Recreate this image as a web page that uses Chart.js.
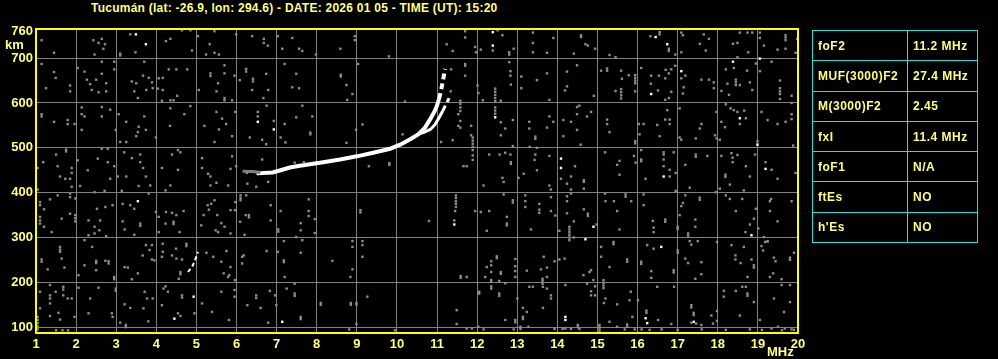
<!DOCTYPE html>
<html lang="es">
<head>
<meta charset="UTF-8">
<title>Ionograma Tucumán</title>
<script src="https://cdn.jsdelivr.net/npm/chart.js@4.4.1/dist/chart.umd.min.js"></script>
<style>
    body { margin: 0; background: #000; width: 998px; height: 359px; overflow: hidden; position: relative;
           font-family: "Liberation Sans", Arial, sans-serif; }
    #grafico { position: absolute; left: 0; top: 0; }
    #titulo { position: absolute; left: 91px; top: 1px; color: #ffff80; font-weight: bold; font-size: 12px;
              letter-spacing: 0.25px; white-space: nowrap; }
    #param { position: absolute; left: 812px; top: 30px; width: 166px; border-collapse: collapse;
             color: #ffff80; font-weight: bold; font-size: 12px; letter-spacing: 0.5px; }
    #param td { border: 1px solid #20e0e0; height: 29.3px; padding: 0 0 0 5px; }
    #param td:first-child { width: 89px; }
</style>
</head>
<body>
<div id="titulo">Tucumán (lat: -26.9, lon: 294.6) - DATE: 2026 01 05 - TIME (UT): 15:20</div>
<canvas id="grafico" width="998" height="359"></canvas>
<table id="param"></table>

<script>
    // parametros de la tabla
    var paramNames = ["foF2", "MUF(3000)F2", "M(3000)F2", "fxI", "foF1", "ftEs", "h'Es"];
    var paramValues = ["11.2 MHz", "27.4 MHz", "2.45", "11.4 MHz", "N/A", "NO", "NO"];

    // ejes
    var xTicks = [1, 2, 3, 4, 5, 6, 7, 8, 9, 10, 11, 12, 13, 14, 15, 16, 17, 18, 19, 20];
    var yTicks = [100, 200, 300, 400, 500, 600, 700, 760];

    // traza ordinaria (MHz, km)
    var oTraceF = [6.5, 6.9, 7.1, 7.33, 7.58, 8.16, 8.58, 9.0, 9.41, 9.83, 10.08, 10.33, 10.53, 10.7, 10.83, 10.93, 10.99, 11.05, 11.09, 11.14, 11.2];
    var oTraceH = [443, 445, 450, 456, 460, 468, 474, 481, 489, 498, 507, 519, 530, 545, 564, 580, 592, 609, 624, 646, 676];
    // traza extraordinaria
    var xTraceF = [10.5, 10.66, 10.83, 10.95, 11.05, 11.14, 11.24, 11.3];
    var xTraceH = [530, 534, 541, 552, 567, 582, 600, 611];
    // inicio gris de la traza
    var tailF = [6.15, 6.4, 6.6];
    var tailH = [448, 447, 445];
    // traza baja cerca de 5 MHz
    var lowF = [4.79, 4.84, 4.89, 4.95, 5.04];
    var lowH = [223, 229, 234, 246, 268];

    // puntos blancos sueltos
    var bright = [[3.49,753],[3.74,731],[6.53,558],[6.93,541],[3.54,381],[4.45,119],[4.93,168],[7.14,112],[11.43,329],[12.39,758],
        [12.39,728],[12.45,568],[16.45,747],[16.74,731],[17.09,671],[16.34,620],[18.38,692],[19.05,699],[18.55,566],[18.99,507],
        [14.09,476],[14.09,455],[16.65,436],[19.19,453],[14.9,324],[14.7,296],[18.84,305],[16.59,279],[16.2,120],[16.24,109],
        [17.4,112],[14.2,123],[14.2,116]];

    // ruido gris
    var noise = [
        [1.14,740],[1.45,712],[2.43,740],[2.56,734],[2.64,743],[2.72,731],[2.68,721],[2.46,708],[3.35,753],[3.48,713],[3.1,710],[3.1,706],
        [4.35,743],[4.24,738],[4.89,717],[4.64,762],[4.85,762],[5.04,749],[5.33,731],[5.45,760],[5.24,708],[5.45,712],[5.56,708],[6.39,749],
        [6.68,743],[6.68,734],[6.78,728],[7.14,721],[7.03,749],[5.99,753],
        [1.14,687],[1.45,669],[1.49,656],[1.25,633],[1.85,639],[1.85,626],[2.04,678],[2.21,670],[2.64,692],[2.64,665],[2.95,692],[2.95,675],
        [2.27,652],[2.35,642],[2.5,652],[2.39,629],[2.56,624],[2.75,644],[2.75,626],[3.39,648],[3.5,644],[3.67,661],[3.7,692],[3.81,656],
        [3.89,646],[3.91,633],[3.75,629],[3.45,626],[3.54,611],[4.06,655],[4.16,656],[4.04,632],[4.16,629],[4.14,605],[4.35,606],[4.43,606],
        [4.52,616],[4.31,675],[4.77,675],[4.5,675],[5.06,629],[5.35,666],[5.35,660],[5.54,644],[5.5,626],[5.7,684],[5.7,666],[5.7,611],
        [5.7,606],[5.89,606],[5.95,661],[6.08,651],[6.24,676],[6.24,670],[6.41,654],[6.41,648],[6.39,629],[6.74,665],[6.79,629],[6.67,611],[7.2,687],
        [1.14,575],[1.14,570],[1.45,558],[1.79,562],[1.79,553],[1.96,553],[2.14,590],[2.14,575],[2.21,570],[2.14,540],[2.64,591],[2.85,585],
        [2.64,570],[2.99,540],[3.25,558],[3.06,575],[3.56,547],[3.7,570],[3.74,540],[3.54,535],[3.5,526],[3.1,513],[3.25,513],[3.99,523],
        [4.35,588],[4.85,593],[4.7,575],[4.34,549],[5.2,549],[5.5,580],[5.64,565],[5.56,541],[5.74,553],[5.89,526],[5.45,513],[5.97,580],
        [6.53,580],[6.53,570],[6.93,560],[7.2,553],[7.1,523],[7.22,512],[6.33,523],[6.64,518],[6.74,508],[6.75,594],
        [1.75,496],[1.75,492],[1.5,485],[1.18,468],[1.04,455],[1.54,459],[1.89,455],[1.89,444],[1.6,436],[1.73,431],[1.85,431],[2.04,472],
        [2.29,450],[2.54,476],[2.64,498],[2.79,498],[2.79,468],[2.95,459],[2.85,431],[3.04,436],[3.2,490],[3.39,477],[3.6,485],[3.6,468],
        [3.67,455],[3.74,436],[3.25,436],[4.14,455],[4.39,485],[4.54,495],[4.6,490],[4.54,451],[5.14,477],[5.14,455],[5.29,442],[5.35,436],
        [5.89,481],[5.99,459],[5.85,453],[6.26,444],[6.64,474],
        [7.39,745],[7.56,721],[7.64,716],[7.98,708],[8.59,721],[8.95,749],[8.95,740],[9.8,704],[11.24,731],[11.39,716],[11.7,760],[11.7,746],
        [11.95,725],[11.97,713],[12.09,719],[12.39,717],[12.51,762],[12.63,751],[12.8,713],[12.8,708],[12.91,721],[13.39,757],[13.39,734],[13.39,713],
        [7.49,665],[7.39,635],[7.56,633],[8.6,663],[8.6,659],[8.74,640],[8.89,620],[9.03,687],[8.76,607],[10.2,603],[11.35,675],[11.34,626],
        [11.7,687],[11.7,683],[11.7,661],[12.01,639],[12.03,622],[12.14,606],[12.45,632],[12.45,625],[12.45,618],[12.45,611],[12.45,604],
        [12.59,605],[12.8,691],[12.83,671],[12.83,661],[12.84,641],[13.1,659],[13.1,633],[13.49,651],
        [7.64,594],[7.49,568],[7.89,570],[7.84,534],[7.84,530],[9.14,552],[8.98,540],[8.74,511],[10.14,530],[11.1,513],[11.39,517],[11.58,605],
        [11.58,598],[11.58,590],[11.58,582],[11.58,560],[11.58,545],[11.53,575],[11.53,549],[11.85,549],[11.85,528],[11.89,523],[11.89,516],
        [11.89,509],[11.89,502],[11.89,495],[12.45,590],[12.45,583],[12.45,576],[12.59,557],[12.7,543],[12.59,528],[12.89,562],[13.3,558],
        [13.3,543],[13.45,525],[13.45,520],[13.49,500],[12.89,504],
        [7.68,468],[7.45,467],[9.81,466],[9.81,462],[9.3,459],[11.66,459],[11.74,459],[11.89,483],[11.89,473],[12.3,485],[12.56,485],[12.7,489],
        [12.83,485],[12.84,468],[12.84,464],[13.31,502],[13.45,485],[13.43,473],[13.49,450],[13.16,442],[12.63,433],[13.03,433],
        [13.9,745],[13.74,712],[14.41,710],[14.59,751],[14.59,747],[14.76,728],[14.7,731],[14.94,721],[15.3,707],[15.45,702],[16.32,749],
        [16.55,758],[16.55,753],[16.78,721],[16.78,716],[16.94,708],[17.09,757],[17.13,751],[17.55,732],[17.65,753],[17.78,743],[17.7,717],
        [17.09,713],[18.38,732],[18.49,734],[18.55,757],[18.74,757],[18.86,757],[18.76,713],[18.49,702],[19.05,757],[19.05,745],[19.15,728],
        [19.49,719],[19.69,751],[19.69,746],[19.69,740],[19.69,721],[19.94,712],[19.98,743],
        [13.74,666],[14.24,670],[14.24,637],[14.19,628],[13.8,607],[14.49,684],[14.91,616],[15.09,672],[15.24,677],[15.24,672],[15.59,672],
        [15.61,654],[15.59,631],[15.59,624],[15.59,617],[15.59,610],[15.45,627],[15.78,662],[15.94,662],[15.94,656],[15.94,650],[15.94,644],
        [15.94,626],[16.09,678],[16.34,661],[16.33,643],[16.51,628],[16.53,661],[16.69,655],[16.7,674],[16.78,666],[16.84,675],[16.84,625],
        [16.69,607],[16.78,611],[16.94,683],[17.09,655],[17.19,661],[17.15,635],[17.13,621],[17.59,652],[17.78,652],[17.9,646],[17.9,633],
        [18.09,627],[18.24,643],[18.28,618],[18.2,675],[18.4,678],[18.45,652],[18.45,646],[18.45,640],[18.55,640],[18.73,672],[18.8,646],
        [18.86,629],[18.95,688],[19.05,671],[19.34,692],[19.55,650],[19.55,633],[19.55,626],[19.55,620],[19.55,609],[19.84,616],[19.84,600],
        [13.8,570],[13.9,558],[13.74,545],[14.15,562],[14.15,526],[14.34,558],[14.49,591],[14.49,575],[14.49,540],[14.55,594],[14.74,570],
        [14.84,580],[14.58,507],[15.24,563],[15.24,553],[15.3,535],[15.94,515],[15.94,510],[16.03,553],[16.15,553],[16.05,530],[16.49,551],
        [16.55,526],[16.69,563],[16.8,563],[16.74,584],[16.8,553],[17.05,588],[17.05,523],[17.09,518],[17.45,521],[17.59,553],[17.55,543],
        [17.97,580],[17.93,528],[17.97,521],[18.05,518],[18.09,558],[18.18,546],[18.2,597],[18.32,588],[18.4,584],[18.49,580],[18.66,583],
        [18.7,566],[18.55,553],[18.99,515],[19.09,580],[19.24,562],[19.49,553],[19.69,558],[19.84,564],[19.84,575],[19.88,505],
        [13.8,482],[14.44,459],[14.34,436],[14.09,431],[14.66,428],[15.19,490],[15.55,471],[15.49,462],[15.55,440],[15.91,482],[15.95,467],
        [16.09,495],[16.09,474],[16.09,470],[16.2,431],[16.65,490],[16.65,485],[16.65,474],[16.65,459],[16.8,436],[16.8,451],[16.95,444],
        [16.9,490],[17.19,462],[17.45,485],[17.45,480],[17.74,482],[18.09,482],[18.19,440],[18.19,435],[18.34,488],[18.37,478],[18.37,468],
        [18.49,484],[18.7,459],[18.8,436],[18.93,485],[19.19,468],[19.34,451],[19.49,431],[19.94,444],
        [1.04,407],[1.89,413],[2.1,415],[2.46,401],[2.71,404],[3.14,404],[3.56,415],[3.85,416],[4.23,405],[4.35,416],[5.35,416],[5.5,422],
        [5.79,416],[6.27,420],[6.49,413],[6.79,424],
        [1.1,379],[1.1,372],[1.35,385],[1.2,363],[1.1,346],[1.1,338],[1.1,331],[1.2,324],[1.39,312],[1.54,394],[1.85,398],[1.85,390],[1.98,387],
        [1.98,350],[1.98,343],[1.98,336],[1.64,342],[1.85,353],[2.31,338],[2.46,324],[2.52,364],[2.73,368],[2.6,338],[2.91,372],[2.46,309],
        [2.75,303],[2.31,305],[2.58,316],[3.16,375],[3.35,372],[3.45,364],[3.16,336],[3.6,331],[3.6,326],[3.21,318],[3.45,306],[3.81,398],
        [3.99,357],[4.06,346],[4.24,357],[4.39,355],[4.5,350],[4.68,359],[4.43,335],[4.43,330],[4.23,331],[4.06,312],[4.58,312],[5.28,372],
        [5.37,375],[5.31,362],[5.18,350],[5.12,327],[5.45,383],[5.52,350],[5.62,332],[5.7,324],[5.54,312],[5.48,316],[5.85,309],[6.1,394],
        [6.1,388],[6.1,383],[6.24,394],[5.97,379],[5.85,361],[5.96,361],[6.23,350],[6.31,350],[6.31,345],[6.09,335],[6.2,306],[6.85,372],
        [6.85,338],[7.1,359],[7.04,318],[7.04,313],
        [1.14,251],[1.14,246],[1.29,229],[1.6,279],[1.6,273],[1.6,268],[1.64,253],[1.71,233],[2.21,294],[2.21,238],[2.5,248],[2.5,243],
        [2.5,227],[2.81,247],[2.81,242],[2.95,212],[2.95,207],[2.06,216],[2.4,279],[2.73,248],[3.21,234],[3.29,233],[3.54,220],[3.39,207],
        [3.74,283],[3.89,283],[3.83,272],[3.66,260],[3.89,251],[3.95,249],[4.16,286],[4.16,268],[4.14,257],[4.39,260],[4.49,275],[4.5,253],
        [4.64,251],[4.75,286],[4.75,281],[4.6,223],[4.6,218],[4.56,208],[5.25,266],[5.42,257],[5.62,246],[5.75,270],[5.85,234],[5.68,220],
        [5.79,212],[5.82,216],[5.96,205],[6.14,257],[6.18,260],[6.14,242],[6.75,270],[7.18,249],[7.18,245],[7.2,212],[7.18,292],[7.03,268],
        [1.1,179],[1.35,194],[1.35,171],[1.35,164],[1.49,179],[1.68,190],[1.68,184],[1.68,171],[1.35,153],[1.1,142],[1.35,125],[1.56,132],
        [1.6,117],[1.89,164],[1.79,164],[1.96,123],[2.06,188],[2.35,164],[2.56,188],[2.31,131],[2.89,131],[2.99,186],[2.99,181],[2.91,123],
        [3.21,151],[3.35,143],[3.1,110],[3.24,105],[3.24,100],[3.71,179],[3.77,164],[3.91,164],[3.68,142],[3.8,113],[4.23,191],[4.29,179],
        [4.14,149],[4.18,186],[4.54,131],[4.6,125],[4.64,171],[4.64,166],[4.95,131],[5.14,153],[5.39,134],[5.62,179],[5.95,183],[5.95,168],
        [5.81,116],[6.27,149],[6.49,171],[6.49,165],[6.6,143],[6.83,181],[6.96,171],[6.99,149],[6.79,110],[7.25,186],
        [1.04,123],[1.04,116],[1.04,109],[1.04,102],[1.04,95],[1.5,93],[1.66,93],[1.8,93],
        [12.16,416],[12.66,424],[12.66,396],[12.89,383],[12.89,378],[13.2,394],[13.2,381],[13.2,368],[13.55,375],[13.55,362],[13.55,355],
        [13.34,318],[11.47,394],[11.47,388],[11.47,381],[11.47,375],[11.47,368],[11.45,359],[11.43,338],[11.95,359],[12.09,357],[12.3,359],
        [12.74,346],[12.74,331],[12.74,327],[12.24,315],[10.8,337],[7.8,385],[7.8,359],[7.8,348],[7.95,341],[7.6,332],[7.6,316],[7.95,310],
        [7.49,301],[7.64,294],[9.09,361],[9.09,356],[7.6,266],[8.39,248],[8.89,292],[8.89,279],[9.14,292],[9.14,283],[9.14,257],[8.89,229],
        [8.84,212],[11.59,214],[11.59,210],[11.74,212],[12.49,258],[12.49,254],[12.35,247],[12.35,238],[12.24,234],[12.35,223],[12.59,223],
        [12.59,219],[12.2,212],[12.35,205],[12.35,201],[12.55,203],[12.95,252],[12.95,236],[12.95,225],[12.95,212],[13.24,226],[13.59,229],
        [13.66,257],[13.63,208],[13.63,203],[13.63,197],[7.45,197],[7.45,175],[7.45,170],[8.1,154],[8.1,150],[8.85,154],[8.85,150],[8.99,154],
        [8.99,150],[9.26,168],[7.6,123],[7.6,118],[8.99,107],[8.81,95],[9.95,93],[12.05,179],[12.05,175],[12.35,191],[12.35,186],[12.55,175],
        [12.55,170],[12.7,198],[13.3,190],[13.39,190],[13.64,190],[13.14,143],[13.24,134],[13.14,123],[13.14,118],[13.64,143],[12.7,116],
        [12.95,116],[12.95,111],[11.49,138],[11.49,107],[11.74,97],[11.87,97],[12.03,101],[12.16,95],[12.91,95],[13.08,101],[13.08,96],
        [13.28,101],[13.0,164],
        [13.8,416],[13.84,407],[14.24,420],[14.34,407],[14.66,424],[14.66,409],[14.24,392],[14.24,381],[14.34,398],[13.84,390],[13.84,359],
        [13.95,349],[14.24,354],[14.66,363],[14.76,353],[14.76,348],[14.41,336],[14.05,315],[14.3,324],[14.3,318],[14.3,312],[14.3,306],
        [14.3,300],[14.3,294],[14.41,300],[14.98,329],[15.19,398],[15.2,381],[15.41,381],[15.7,396],[15.7,391],[15.84,381],[15.49,359],
        [15.55,318],[16.15,396],[16.15,372],[16.38,337],[16.4,322],[16.4,312],[16.69,340],[16.69,335],[17.0,324],[17.0,319],[16.95,404],
        [17.09,370],[17.13,377],[17.19,394],[17.05,350],[17.26,309],[17.26,304],[17.3,411],[17.44,340],[17.44,324],[17.55,389],[17.55,384],
        [17.95,401],[18.05,409],[18.2,394],[18.3,418],[18.3,386],[18.45,359],[18.65,405],[18.61,386],[18.9,342],[18.8,329],[18.69,312],
        [18.95,364],[19.01,320],[19.3,381],[19.33,386],[19.3,359],[19.84,381],[19.49,336],[19.15,301],[19.24,291],
        [15.09,279],[15.09,257],[15.3,234],[14.84,227],[14.8,223],[14.65,216],[14.9,205],[14.18,253],[14.05,251],[13.93,247],[13.74,233],
        [13.74,212],[15.4,290],[15.4,285],[15.74,251],[15.74,246],[16.09,246],[16.09,241],[16.24,283],[16.4,275],[16.34,225],[16.34,210],
        [16.9,227],[16.9,222],[17.0,271],[17.0,266],[17.3,292],[17.34,284],[17.5,292],[17.19,253],[17.26,243],[17.59,245],[17.59,218],
        [17.44,208],[17.98,290],[18.34,283],[18.44,260],[18.44,251],[18.57,243],[18.84,251],[18.9,238],[18.9,233],[18.65,279],[18.74,212],
        [19.09,281],[19.13,271],[19.18,290],[19.24,292],[19.4,255],[19.44,247],[19.8,255],[19.8,250],[19.9,266],[19.3,212],[19.59,207],[19.38,220],
        [13.74,186],[13.84,171],[13.84,164],[14.2,194],[14.74,197],[14.94,191],[14.84,180],[14.94,171],[14.84,171],[15.15,205],[15.15,199],
        [15.15,193],[15.15,187],[15.16,154],[15.2,164],[15.49,151],[15.83,179],[15.8,160],[16.01,160],[16.49,190],[16.91,190],[16.22,132],
        [16.22,137],[15.87,123],[15.3,112],[15.49,101],[15.74,101],[15.74,106],[16.51,116],[16.84,107],[17.34,149],[17.34,144],[17.4,132],
        [17.4,127],[17.59,105],[17.84,126],[17.98,136],[17.98,114],[18.15,181],[18.15,168],[18.45,181],[18.61,190],[18.7,190],[18.74,175],
        [18.74,170],[18.9,156],[18.55,126],[19.05,116],[19.4,164],[19.59,194],[19.8,194],[19.8,156],[19.65,134],[14.2,97],[14.51,105],
        [14.51,100],[15.05,105],[15.05,100],[15.05,95],[15.05,90],[13.93,96],[14.13,96],[14.34,96],[14.55,96],[15.68,95],[15.93,95],
        [17.34,110],[17.46,108],[17.88,108],[19.34,97],[19.5,101],[19.67,97],[19.84,95],[16.1,95],[16.3,94],[16.6,95],[17.0,94],[17.6,95],
        [18.2,94],[18.8,95],[19.1,94],[19.6,93],[19.9,94]
    ];

    var amarillo = "#ffff80";
    var gris = "#808080";

    function pares(f, h) {
        return f.map(function (v, i) { return [v, h[i]]; });
    }

    // tabla de parametros
    var tabla = document.getElementById("param");
    paramNames.forEach(function (n, i) {
        var tr = document.createElement("tr");
        var td1 = document.createElement("td");
        var td2 = document.createElement("td");
        td1.textContent = n;
        td2.textContent = paramValues[i];
        tr.appendChild(td1);
        tr.appendChild(td2);
        tabla.appendChild(tr);
    });

    // marco amarillo + textos km / MHz
    var marco = {
        id: "marco",
        afterDraw: function (chart) {
            var c = chart.ctx, a = chart.chartArea;
            c.save();
            c.strokeStyle = "#ffff00";
            c.lineWidth = 2;
            c.strokeRect(a.left, a.top, a.right - a.left, a.bottom - a.top);
            c.fillStyle = amarillo;
            c.font = "bold 13px 'Liberation Sans', Arial, sans-serif";
            c.textBaseline = "middle";
            c.textAlign = "left";
            c.fillText("km", 5, 45);
            c.fillText("MHz", 767, 352);
            c.restore();
        }
    };

    var mychart = new Chart(document.getElementById("grafico"), {
        type: "scatter",
        data: {
            datasets: [
                { data: noise, pointStyle: "rect", pointRadius: 1.7, backgroundColor: "#8c8c8c", borderWidth: 0, showLine: false },
                { data: bright, pointStyle: "rect", pointRadius: 1.7, backgroundColor: "#ffffff", borderWidth: 0, showLine: false },
                { data: pares(tailF, tailH), showLine: true, borderColor: gris, borderWidth: 3, pointRadius: 0 },
                { data: pares(lowF, lowH), showLine: true, borderColor: "#ffffff", borderWidth: 2, borderDash: [4, 3], pointRadius: 0 },
                {
                    data: pares(oTraceF, oTraceH), showLine: true, borderColor: "#ffffff", borderWidth: 4, pointRadius: 0,
                    segment: { borderDash: function (ctx) { return ctx.p0.parsed.y >= 600 ? [6, 4] : undefined; } }
                },
                {
                    data: pares(xTraceF, xTraceH), showLine: true, borderColor: "#ffffff", borderWidth: 3, pointRadius: 0,
                    segment: { borderDash: function (ctx) { return ctx.p0.parsed.y >= 580 ? [6, 4] : undefined; } }
                }
            ]
        },
        options: {
            responsive: false,
            animation: false,
            events: [],
            layout: { padding: { top: 29, right: 200, left: 0, bottom: 0 } },
            plugins: { legend: { display: false }, tooltip: { enabled: false } },
            scales: {
                x: {
                    type: "linear", min: 1, max: 20,
                    afterBuildTicks: function (s) { s.ticks = xTicks.map(function (v) { return { value: v }; }); },
                    afterFit: function (s) { s.height = 26; },
                    border: { display: false },
                    grid: {
                        drawTicks: false,
                        color: function (ctx) { return (ctx.tick && (ctx.tick.value === 1 || ctx.tick.value === 20)) ? "rgba(0,0,0,0)" : gris; }
                    },
                    ticks: {
                        color: amarillo, padding: 4, maxRotation: 0, autoSkip: false,
                        font: { family: "'Liberation Sans', Arial, sans-serif", weight: "bold", size: 13 }
                    }
                },
                y: {
                    type: "linear", min: 87, max: 765,
                    afterBuildTicks: function (s) { s.ticks = yTicks.map(function (v) { return { value: v }; }); },
                    afterFit: function (s) { s.width = 36; },
                    border: { display: false },
                    grid: {
                        drawTicks: false,
                        color: function (ctx) { return (ctx.tick && ctx.tick.value === 760) ? "rgba(0,0,0,0)" : gris; }
                    },
                    ticks: {
                        color: amarillo, padding: 3, autoSkip: false,
                        font: { family: "'Liberation Sans', Arial, sans-serif", weight: "bold", size: 13 }
                    }
                }
            }
        },
        plugins: [marco]
    });
</script>
</body>
</html>
